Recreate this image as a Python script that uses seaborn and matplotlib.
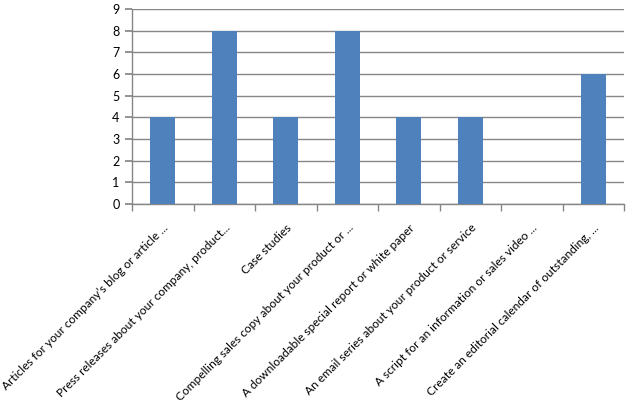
import matplotlib
matplotlib.use("Agg")
import matplotlib.pyplot as plt
import seaborn as sns
import pandas as pd

categories = [
    "Articles for your company\u2019s blog or article ...",
    "Press releases about your company, product...",
    "Case studies",
    "Compelling sales copy about your product or ...",
    "A downloadable special report or white paper",
    "An email series about your product or service",
    "A script for an information or sales video ...",
    "Create an editorial calendar of outstanding, ...",
]
values = [4, 8, 4, 8, 4, 4, 0, 6]
y_ticks = list(range(0, 10))

sns.set_theme(style="white")
plt.rcParams["font.family"] = ["Lato", "DejaVu Sans"]

df = pd.DataFrame({"cat": categories, "val": values})
fig = plt.figure(figsize=(6.35, 4.13), dpi=100)
ax = fig.add_axes([132 / 635, 1 - 204 / 413, (624 - 132) / 635, (204 - 9) / 413])
sns.barplot(data=df, x="cat", y="val", color="#4F81BD", width=0.4, saturation=1,
            linewidth=0, ax=ax, zorder=3)

ax.set_ylim(0, 9)
ax.set_xlim(-0.5, len(categories) - 0.5)
ax.set_yticks(y_ticks)
ax.yaxis.grid(True, color="#868686", linewidth=1, zorder=0)
ax.set_axisbelow(True)
ax.set_xlabel("")
ax.set_ylabel("")
for s in ["top", "right"]:
    ax.spines[s].set_visible(False)
for s in ["left", "bottom"]:
    ax.spines[s].set_color("#868686")
    ax.spines[s].set_linewidth(1)

ax.tick_params(axis="y", which="major", length=5, color="#868686", labelsize=9, labelcolor="#000000", direction="out", left=True, pad=4)
ax.set_xticks(range(len(categories)))
ax.set_xticklabels(categories, rotation=45, ha="right", rotation_mode="anchor", fontsize=8.6)
ax.tick_params(axis="x", which="major", length=0, pad=13, labelcolor="#000000")
ax.set_xticks([i - 0.5 for i in range(len(categories) + 1)], minor=True)
ax.tick_params(axis="x", which="minor", length=5, color="#868686", direction="out", bottom=True)

fig.savefig("out.png", dpi=100)
